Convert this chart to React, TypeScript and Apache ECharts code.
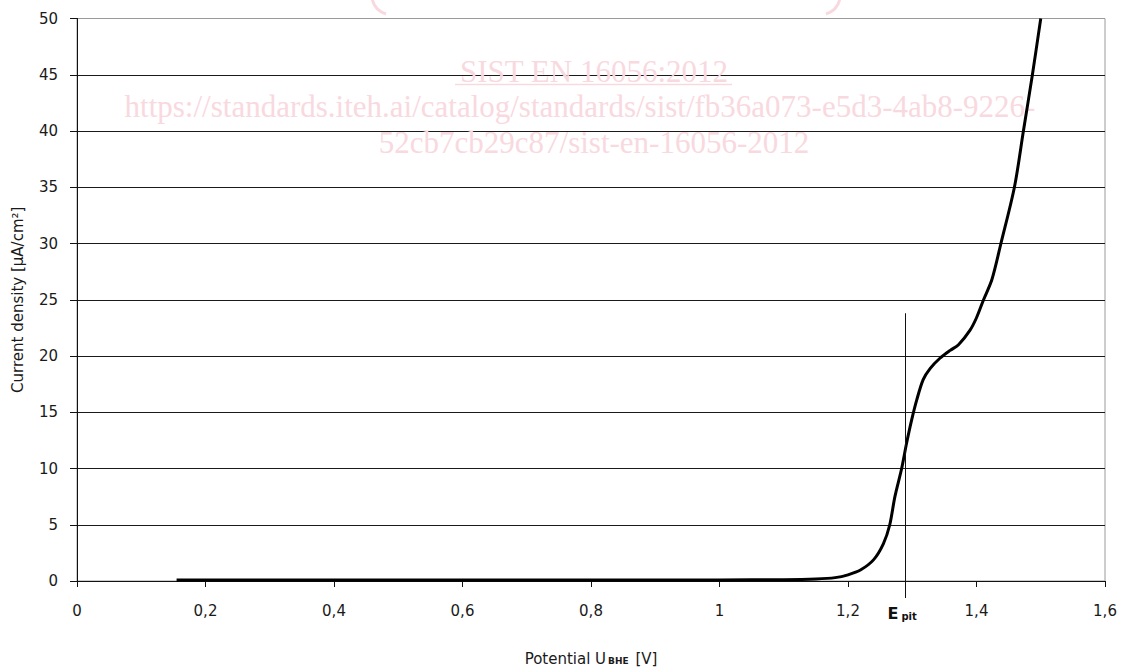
import React, { useEffect, useRef } from "react";
import * as echarts from "echarts";

const potential = [0.155, 0.3, 0.5, 0.7, 0.9, 1.0, 1.1, 1.15, 1.18, 1.2, 1.22, 1.24, 1.255, 1.265, 1.273, 1.2835, 1.291, 1.299, 1.307, 1.317, 1.328, 1.343, 1.359, 1.372, 1.39, 1.4, 1.411, 1.424, 1.438, 1.459, 1.473, 1.487, 1.5];
const currentDensity = [0.1, 0.1, 0.1, 0.1, 0.1, 0.1, 0.12, 0.18, 0.3, 0.55, 1.0, 1.9, 3.3, 5.0, 7.5, 10.0, 12.2, 14.3, 16.1, 17.9, 18.9, 19.8, 20.5, 21.0, 22.3, 23.4, 25.0, 26.8, 30, 35, 40, 45, 50];
const EPIT = 1.289;
const EPIT_TOP = 23.8;
const watermarkLines = [
  "SIST EN 16056:2012",
  "https://standards.iteh.ai/catalog/standards/sist/fb36a073-e5d3-4ab8-9226-",
  "52cb7cb29c87/sist-en-16056-2012",
];

const PINK = "#f9d9e0";
const FONT = "DejaVu Sans";
const TXT = "#1a1a1a";

export default function App() {
  const ref = useRef<HTMLDivElement>(null);
  useEffect(() => {
    if (!ref.current) return;
    const chart = echarts.init(ref.current, null, { renderer: "svg" });
    const fmt = (v: number) => String(Math.round(v * 10) / 10).replace(".", ",");
    chart.setOption({
      animation: false,
      backgroundColor: "#fff",
      grid: {
        left: 77,
        top: 18.5,
        right: 17,
        bottom: 90,
        show: true,
        containLabel: false,
        outerBoundsMode: "none",
        borderColor: "#9a9a9a",
        borderWidth: 1,
        backgroundColor: "transparent",
      },
      xAxis: {
        type: "value",
        min: 0,
        max: 1.6,
        interval: 0.2,
        name: "Potential U{sub|BHE} [V]",
        nameLocation: "middle",
        nameGap: 70,
        nameTextStyle: {
          fontFamily: FONT,
          fontSize: 15,
          color: TXT,
          rich: { sub: { fontFamily: FONT, fontSize: 9, fontWeight: "bold", color: TXT, padding: [5, 2, 0, 2] } },
        },
        axisLine: { show: true, onZero: false, lineStyle: { color: "#111", width: 1 } },
        axisTick: { show: true, inside: false, length: 6, lineStyle: { color: "#111" } },
        axisLabel: { fontFamily: FONT, fontSize: 15, color: TXT, margin: 22, formatter: fmt },
        splitLine: { show: false },
      },
      yAxis: {
        type: "value",
        min: 0,
        max: 50,
        interval: 5,
        name: "Current density [µA/cm²]",
        nameLocation: "middle",
        nameGap: 52,
        nameTextStyle: { fontFamily: FONT, fontSize: 15, color: TXT },
        axisLine: { show: true, lineStyle: { color: "#111", width: 1 } },
        axisTick: { show: true, inside: false, length: 7, lineStyle: { color: "#111" } },
        axisLabel: { fontFamily: FONT, fontSize: 15, color: TXT, margin: 19 },
        splitLine: { show: true, showMaxLine: false, lineStyle: { color: "#1a1a1a", width: 1 } },
      },
      series: [
        {
          type: "line",
          data: potential.map((x, i) => [x, currentDensity[i]]),
          showSymbol: false,
          smooth: 0.3,
          lineStyle: { color: "#000", width: 3 },
          z: 5,
        },
      ],
    });

    const top = chart.convertToPixel({ gridIndex: 0 }, [EPIT, EPIT_TOP]) as number[];
    const base = chart.convertToPixel({ gridIndex: 0 }, [EPIT, 0]) as number[];

    chart.setOption({
      graphic: [
        {
          type: "bezierCurve",
          id: "parL",
          silent: true,
          z: 0,
          shape: { x1: 372, y1: -2, x2: 386, y2: 14, cpx1: 374, cpy1: 10 },
          style: { stroke: PINK, lineWidth: 3, fill: "none" },
        },
        {
          type: "bezierCurve",
          id: "parR",
          silent: true,
          z: 0,
          shape: { x1: 840, y1: -2, x2: 826, y2: 14, cpx1: 838, cpy1: 10 },
          style: { stroke: PINK, lineWidth: 3, fill: "none" },
        },
        {
          type: "text",
          id: "wm0",
          x: 594,
          y: 71,
          silent: true,
          z: 0,
          style: { text: watermarkLines[0], font: "31px 'Liberation Serif'", fill: PINK, align: "center", verticalAlign: "middle" },
        },
        {
          type: "line",
          id: "wmu",
          silent: true,
          z: 0,
          shape: { x1: 455, y1: 84.5, x2: 732, y2: 84.5 },
          style: { stroke: PINK, lineWidth: 1.5 },
        },
        {
          type: "text",
          id: "wm1",
          x: 580,
          y: 106,
          silent: true,
          z: 0,
          style: { text: watermarkLines[1], font: "31px 'Liberation Serif'", fill: PINK, align: "center", verticalAlign: "middle" },
        },
        {
          type: "text",
          id: "wm2",
          x: 594,
          y: 142,
          silent: true,
          z: 0,
          style: { text: watermarkLines[2], font: "31px 'Liberation Serif'", fill: PINK, align: "center", verticalAlign: "middle" },
        },
        {
          type: "line",
          id: "epitLine",
          silent: true,
          z: 10,
          shape: { x1: Math.round(top[0]) + 0.5, y1: top[1], x2: Math.round(top[0]) + 0.5, y2: base[1] + 17 },
          style: { stroke: "#111", lineWidth: 1 },
        },
        {
          type: "text",
          id: "epitLabel",
          x: top[0] - 3,
          y: base[1] + 32,
          silent: true,
          z: 10,
          style: {
            text: "{e|E}{s|pit}",
            align: "center",
            verticalAlign: "middle",
            rich: {
              e: { fontFamily: FONT, fontSize: 16, fontWeight: "bold", fill: "#111" },
              s: { fontFamily: FONT, fontSize: 10, fontWeight: "bold", fill: "#111", padding: [7, 0, 0, 3] },
            },
          },
        },
      ],
    });

    return () => chart.dispose();
  }, []);
  return <div ref={ref} style={{ position: "absolute", left: 0, top: 0, width: 1122, height: 671 }} />;
}
